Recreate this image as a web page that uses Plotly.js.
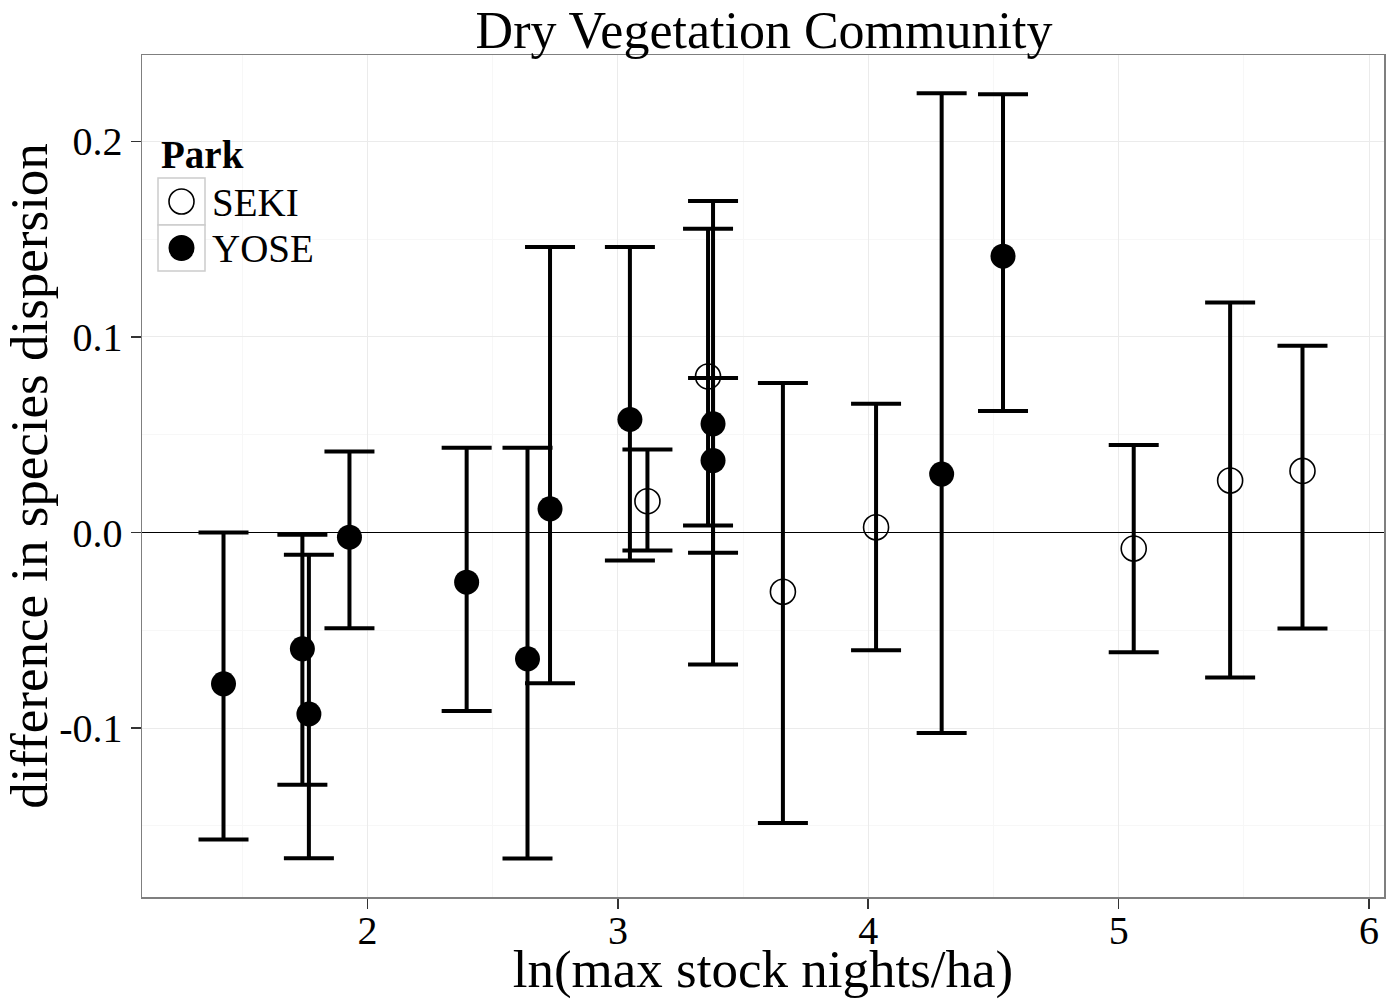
<!DOCTYPE html>
<html>
<head>
<meta charset="utf-8">
<script src="https://cdn.plot.ly/plotly-3.0.1.min.js"></script>
<style>
  html, body { margin: 0; padding: 0; background: #ffffff; }
  #chart { width: 1397px; height: 999px; }
</style>
</head>
<body>
<div id="chart"></div>
<script>
// ---- data ----
var parks = ["SEKI", "YOSE"];

var sekiX    = [3.118, 3.360, 3.659, 4.031, 5.060, 5.445, 5.734];
var sekiY    = [0.0160, 0.0798, -0.0303, 0.0027, -0.0082, 0.0266, 0.0315];
var sekiLow  = [-0.0092, 0.0036, -0.1485, -0.0602, -0.0612, -0.0742, -0.0491];
var sekiHigh = [0.0425, 0.1553, 0.0764, 0.0659, 0.0448, 0.1176, 0.0955];

var yoseX    = [1.425, 1.740, 1.766, 1.928, 2.396, 2.639, 2.729, 3.048, 3.380, 3.380, 4.293, 4.538];
var yoseY    = [-0.0774, -0.0595, -0.0928, -0.0024, -0.0254, -0.0646, 0.0121, 0.0578, 0.0556, 0.0368, 0.0299, 0.1413];
var yoseLow  = [-0.157, -0.129, -0.1666, -0.049, -0.0913, -0.1667, -0.0771, -0.0143, -0.0675, -0.0104, -0.1025, 0.0622];
var yoseHigh = [0.0, -0.0012, -0.0114, 0.0414, 0.0433, 0.0433, 0.146, 0.146, 0.1695, 0.079, 0.2246, 0.2241];

var xTicks = [2, 3, 4, 5, 6];
var yTicks = [-0.1, 0.0, 0.1, 0.2];
var yTickText = ["-0.1", "0.0", "0.1", "0.2"];

var titleText = "Dry Vegetation Community";
var xTitle = "ln(max stock nights/ha)";
var yTitle = "difference in species dispersion";
var legendTitle = "Park";

// ---- build ----
function plus(hi, y) { return hi.map(function (v, i) { return v - y[i]; }); }
function minus(lo, y) { return lo.map(function (v, i) { return y[i] - v; }); }

var FONT = "Liberation Serif, Times New Roman, Times, serif";
var errStyle = { type: "data", symmetric: false, color: "#000000", thickness: 4, width: 25 };

var traces = [
  {
    type: "scatter", mode: "markers", name: parks[0],
    x: sekiX, y: sekiY,
    error_y: Object.assign({ array: plus(sekiHigh, sekiY), arrayminus: minus(sekiLow, sekiY) }, errStyle),
    marker: { symbol: "circle-open", size: 25, color: "#000000", line: { width: 1.6, color: "#000000" } },
    showlegend: false, hoverinfo: "x+y"
  },
  {
    type: "scatter", mode: "markers", name: parks[1],
    x: yoseX, y: yoseY,
    error_y: Object.assign({ array: plus(yoseHigh, yoseY), arrayminus: minus(yoseLow, yoseY) }, errStyle),
    marker: { symbol: "circle", size: 25, color: "#000000" },
    showlegend: false, hoverinfo: "x+y"
  }
];

// plot area in pixels: left 142, right 1384, top 55, bottom 897
var L = 142, R = 1384, T = 55, B = 897;
function px(x) { return (x - L) / (R - L); }
function py(y) { return (B - y) / (B - T); }

var keyBorder = "rgb(204,204,204)";
var shapes = [
  { type: "rect", xref: "paper", yref: "paper", x0: px(158), x1: px(205), y0: py(225), y1: py(178),
    line: { color: keyBorder, width: 1.5 }, fillcolor: "#ffffff", layer: "above" },
  { type: "rect", xref: "paper", yref: "paper", x0: px(158), x1: px(205), y0: py(271), y1: py(225),
    line: { color: keyBorder, width: 1.5 }, fillcolor: "#ffffff", layer: "above" },
  { type: "circle", xref: "paper", yref: "paper", x0: px(181.5 - 12.5), x1: px(181.5 + 12.5), y0: py(201.5 + 12.5), y1: py(201.5 - 12.5),
    line: { color: "#000000", width: 1.6 }, layer: "above" },
  { type: "circle", xref: "paper", yref: "paper", x0: px(181.5 - 13), x1: px(181.5 + 13), y0: py(248 + 13), y1: py(248 - 13),
    line: { color: "#000000", width: 0 }, fillcolor: "#000000", layer: "above" }
];

var annotations = [
  { xref: "paper", yref: "paper", x: px(159), y: py(155), xanchor: "left", yanchor: "middle",
    text: "<b>" + legendTitle + "</b>", showarrow: false, font: { family: FONT, size: 39, color: "#000000" } },
  { xref: "paper", yref: "paper", x: px(210), y: py(202), xanchor: "left", yanchor: "middle",
    text: parks[0], showarrow: false, font: { family: FONT, size: 39, color: "#000000" } },
  { xref: "paper", yref: "paper", x: px(210), y: py(248), xanchor: "left", yanchor: "middle",
    text: parks[1], showarrow: false, font: { family: FONT, size: 39, color: "#000000" } }
];

var layout = {
  width: 1397, height: 999,
  margin: { l: L, r: 1397 - R, t: T, b: 999 - B, pad: 0 },
  paper_bgcolor: "#ffffff", plot_bgcolor: "#ffffff",
  font: { family: FONT, color: "#000000" },
  showlegend: false,
  title: { text: titleText, font: { family: FONT, size: 52, color: "#000000" },
           x: px(764), xref: "paper", xanchor: "center", y: 0.988, yref: "container", yanchor: "top" },
  xaxis: {
    range: [1.0995, 6.0595], tickvals: xTicks, ticktext: xTicks.map(String),
    ticks: "outside", ticklen: 10, tickwidth: 1.6, tickcolor: "#333333",
    tickfont: { family: FONT, size: 40, color: "#000000" }, ticklabelstandoff: -13,
    showgrid: true, gridcolor: "#ebebeb", gridwidth: 1,
    minor: { dtick: 0.5, tick0: 1.5, showgrid: true, gridcolor: "#f7f7f7", gridwidth: 1 },
    zeroline: false, showline: true, mirror: true, linecolor: "#7f7f7f", linewidth: 1.5,
    title: { text: xTitle, font: { family: FONT, size: 53, color: "#000000" }, standoff: 8 },
    automargin: false
  },
  yaxis: {
    range: [-0.1864, 0.2442], tickvals: yTicks, ticktext: yTickText,
    ticks: "outside", ticklen: 10, tickwidth: 1.6, tickcolor: "#333333",
    tickfont: { family: FONT, size: 40, color: "#000000" },
    showgrid: true, gridcolor: "#ebebeb", gridwidth: 1,
    minor: { dtick: 0.05, tick0: -0.15, showgrid: true, gridcolor: "#f7f7f7", gridwidth: 1 },
    zeroline: true, zerolinecolor: "#000000", zerolinewidth: 1.7,
    showline: true, mirror: true, linecolor: "#7f7f7f", linewidth: 1.5,
    title: { text: yTitle, font: { family: FONT, size: 53, color: "#000000" }, standoff: 1 },
    automargin: false
  },
  shapes: shapes,
  annotations: annotations
};

Plotly.newPlot("chart", traces, layout, { staticPlot: true, displayModeBar: false });
</script>
</body>
</html>
